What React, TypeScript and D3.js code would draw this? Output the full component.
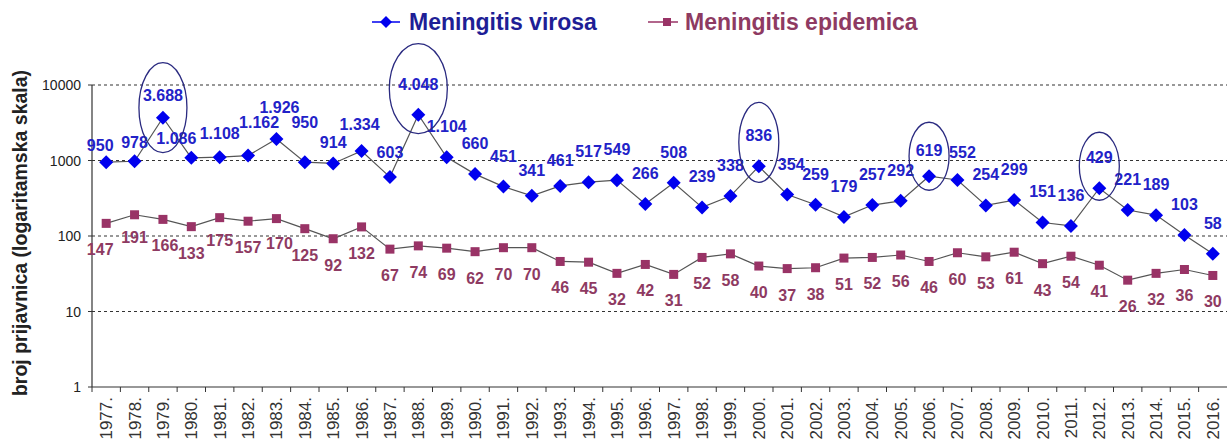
import React from "react";
import * as d3 from "d3";

const years = d3.range(1977, 2017).map((y) => String(y));
const virosa = [
  950, 978, 3688, 1086, 1108, 1162, 1926, 950, 914, 1334,
  603, 4048, 1104, 660, 451, 341, 461, 517, 549, 266,
  508, 239, 338, 836, 354, 259, 179, 257, 292, 619,
  552, 254, 299, 151, 136, 429, 221, 189, 103, 58,
];
const epidemica = [
  147, 191, 166, 133, 175, 157, 170, 125, 92, 132,
  67, 74, 69, 62, 70, 70, 46, 45, 32, 42,
  31, 52, 58, 40, 37, 38, 51, 52, 56, 46,
  60, 53, 61, 43, 54, 41, 26, 32, 36, 30,
];
const yTicks = [1, 10, 100, 1000, 10000];
const highlighted = ["1979", "1988", "2000", "2006", "2012"];
const seriesNames = ["Meningitis virosa", "Meningitis epidemica"];

// manual label nudges (as placed in the original chart)
const virosaNudge: Record<string, [number, number]> = {
  "1977": [-6, 14],
  "1978": [0, 12],
  "1979": [0, 8],
  "1980": [-15, 11],
  "1981": [0, 7],
  "1982": [11, -3],
  "1983": [3, -1],
  "1984": [0, -9],
  "1985": [0, 10],
  "1986": [-2, 4],
  "1987": [0, 6],
  "1992": [0, 5],
  "1993": [0, 5],
  "2001": [4, 0],
  "2006": [0, 5],
  "2007": [5, 3],
};
const epidemicaNudge: Record<string, [number, number]> = {
  "1977": [-6, 0],
  "1978": [0, -4],
  "1979": [2, 0],
  "1981": [0, -4],
  "1983": [3, -2],
};

const W = 1227;
const H = 441;
const left = 92;
const right = 1227;
const top = 85;
const bottom = 387;

const BLUE = "#0000ee";
const BLUE_TXT = "#2222c8";
const BLUE_LEG = "#1e1e96";
const MAROON = "#993366";
const MAROON_TXT = "#8e3a62";
const FONT = "Arial, 'Liberation Sans', sans-serif";

const loc = d3.formatLocale({ decimal: ",", thousands: ".", grouping: [3], currency: ["", ""] });
const fmt = loc.format(",d");

export default function App() {
  const x = d3.scaleBand<string>().domain(years).range([left, right]);
  const cx = (y: string) => (x(y) as number) + x.bandwidth() / 2;
  const y = d3.scaleLog().domain([1, 10000]).range([bottom, top]);

  const line = d3
    .line<number>()
    .x((_, i) => cx(years[i]))
    .y((d) => y(d));

  const diamond = (px: number, py: number, r: number) =>
    `M${px},${py - r}L${px + r},${py}L${px},${py + r}L${px - r},${py}Z`;

  const ellipseDy: Record<string, number> = { "1979": -10, "1988": -26, "2000": -24, "2006": -20, "2012": -22 };
  const ellipseR: Record<string, [number, number]> = {
    "1979": [24, 45],
    "1988": [29, 45],
    "2000": [20, 40],
    "2006": [20, 34],
    "2012": [20, 34],
  };

  return (
    <svg width={W} height={H} style={{ position: "absolute", left: 0, top: 0, background: "#fff" }} fontFamily={FONT}>
      {/* legend */}
      <g>
        <line x1={372} x2={400} y1={22} y2={22} stroke={BLUE} strokeWidth={1.5} />
        <path d={diamond(386, 22, 6)} fill={BLUE} />
        <text x={409} y={30} fontSize={23} fontWeight="bold" fill={BLUE_LEG}>
          {seriesNames[0]}
        </text>
        <line x1={648} x2={678} y1={22} y2={22} stroke={MAROON} strokeWidth={1.5} />
        <rect x={663} y={18} width={8} height={8} fill={MAROON} />
        <text x={685} y={30} fontSize={23} fontWeight="bold" fill={MAROON_TXT}>
          {seriesNames[1]}
        </text>
      </g>

      {/* gridlines */}
      {yTicks
        .filter((t) => t > 1)
        .map((t) => (
          <line key={t} x1={left} x2={right} y1={y(t)} y2={y(t)} stroke="#333" strokeWidth={1.2} strokeDasharray="3,3" />
        ))}

      {/* axes */}
      <line x1={left} x2={left} y1={top} y2={bottom} stroke="#333" strokeWidth={1.2} />
      <line x1={left} x2={right} y1={bottom} y2={bottom} stroke="#333" strokeWidth={1.2} />
      {yTicks.map((t) => (
        <g key={t}>
          <line x1={left - 4} x2={left} y1={y(t)} y2={y(t)} stroke="#333" />
          <text x={left - 11} y={y(t) + 5} textAnchor="end" fontSize={14} fill="#222">
            {t}
          </text>
        </g>
      ))}
      {years.map((yr) => (
        <line key={yr} x1={x(yr) as number} x2={x(yr) as number} y1={bottom} y2={bottom + 5} stroke="#333" />
      ))}
      {years.map((yr) => (
        <text
          key={yr}
          transform={`translate(${cx(yr) + 6},${bottom + 10}) rotate(-90)`}
          textAnchor="end"
          fontSize={17}
          fill="#333"
        >
          {yr + "."}
        </text>
      ))}

      <text
        transform={`translate(27,233) rotate(-90)`}
        textAnchor="middle"
        fontSize={19.5}
        fontWeight="bold"
        fill="#222"
      >
        broj prijavnica (logaritamska skala)
      </text>

      {/* series lines */}
      <path d={line(virosa) || ""} fill="none" stroke="#555" strokeWidth={1.2} />
      <path d={line(epidemica) || ""} fill="none" stroke="#555" strokeWidth={1.2} />

      {/* markers */}
      {virosa.map((v, i) => (
        <path key={i} d={diamond(cx(years[i]), y(v), 7)} fill={BLUE} />
      ))}
      {epidemica.map((v, i) => (
        <rect key={i} x={cx(years[i]) - 4.5} y={y(v) - 4.5} width={9} height={9} fill={MAROON} />
      ))}

      {/* labels */}
      {virosa.map((v, i) => {
        const [dx, dy] = virosaNudge[years[i]] || [0, 0];
        return (
          <text
            key={i}
            x={cx(years[i]) + dx}
            y={y(v) - 25 + dy}
            textAnchor="middle"
            fontSize={16}
            fontWeight="bold"
            fill={BLUE_TXT}
          >
            {fmt(v)}
          </text>
        );
      })}
      {epidemica.map((v, i) => {
        const [dx, dy] = epidemicaNudge[years[i]] || [0, 0];
        return (
          <text
            key={i}
            x={cx(years[i]) + dx}
            y={y(v) + 32 + dy}
            textAnchor="middle"
            fontSize={16}
            fontWeight="bold"
            fill={MAROON_TXT}
          >
            {fmt(v)}
          </text>
        );
      })}

      {/* highlight ellipses */}
      {highlighted.map((yr) => {
        const i = years.indexOf(yr);
        const [rx, ry] = ellipseR[yr];
        return (
          <ellipse
            key={yr}
            cx={cx(yr)}
            cy={y(virosa[i]) + ellipseDy[yr]}
            rx={rx}
            ry={ry}
            fill="none"
            stroke="#2a2a80"
            strokeWidth={1.3}
          />
        );
      })}
    </svg>
  );
}
